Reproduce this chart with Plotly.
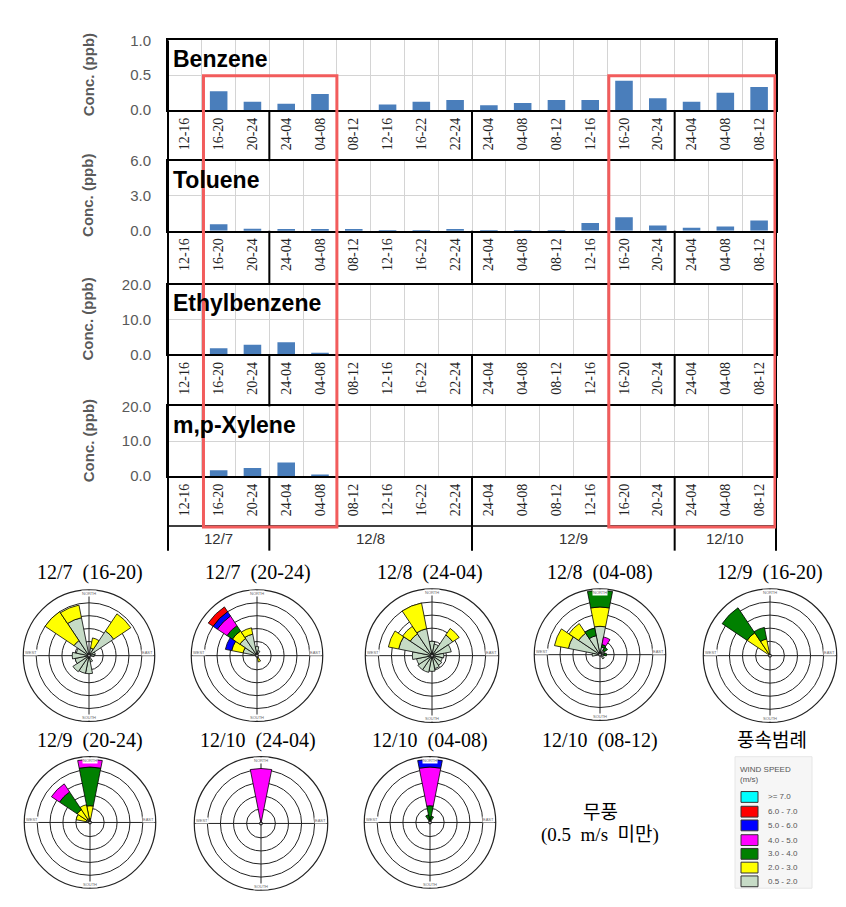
import plotly.graph_objects as go

W, H = 846, 907

# ---------------- data: VOC bar panels ----------------
time_labels = ["12-16", "16-20", "20-24", "24-04", "04-08", "08-12", "12-16", "16-22", "22-24",
               "24-04", "04-08", "08-12", "12-16", "16-20", "20-24", "24-04", "04-08", "08-12"]
date_labels = ["12/7", "12/8", "12/9", "12/10"]
date_counts = [3, 6, 6, 3]

compounds = ["Benzene", "Toluene", "Ethylbenzene", "m,p-Xylene"]
benzene = [0, 0.27, 0.12, 0.09, 0.23, 0, 0.08, 0.12, 0.145, 0.07, 0.10, 0.145, 0.145, 0.42, 0.17, 0.12, 0.25, 0.33]
toluene = [0, 0.57, 0.17, 0.15, 0.15, 0.15, 0.05, 0.05, 0.15, 0.02, 0.05, 0.05, 0.66, 1.17, 0.45, 0.26, 0.37, 0.88]
ethylbenzene = [0, 1.8, 2.8, 3.5, 0.2, 0, 0, 0, 0, 0, 0, 0, 0, 0, 0, 0, 0, 0]
mp_xylene = [0, 1.7, 2.3, 3.9, 0.2, 0, 0, 0, 0, 0, 0, 0, 0, 0, 0, 0, 0, 0]
y_max = [1.0, 6.0, 20.0, 20.0]

# highlighted periods (category index ranges)
highlight_1 = (1, 4)
highlight_2 = (13, 17)

# ---------------- data: wind roses ----------------
directions = ["N", "NNE", "NE", "ENE", "E", "ESE", "SE", "SSE",
              "S", "SSW", "SW", "WSW", "W", "WNW", "NW", "NNW"]
compass_labels = ["NORTH", "EAST", "SOUTH", "WEST"]
speed_classes = ["0.5 - 2.0", "2.0 - 3.0", "3.0 - 4.0", "4.0 - 5.0", "5.0 - 6.0", "6.0 - 7.0", ">= 7.0"]
speed_colors = ["#C6DBC6", "#FFFF00", "#008000", "#FF00FF", "#0000FF", "#FF0000", "#00FFFF"]

# frequency per direction, split by speed class (low -> high)
rose_12_7_16_20 = {"NNE": [0.5, 0.8], "NE": [2.2, 1.6], "ENE": [0.4], "E": [0.3],
                   "SSE": [0.4], "S": [1.3], "SSW": [1.3], "SW": [1.4], "WSW": [1.0], "W": [1.2],
                   "WNW": [0.9], "NW": [1.3, 2.7], "NNW": [2.9, 1.0]}
rose_12_7_20_24 = {"N": [0.6], "NNE": [0.3], "SSE": [0.1, 0.3], "WNW": [1.0, 0.9, 0, 0, 0.5],
                   "NW": [1.5, 0.7, 0.5, 0.9, 0.4, 0.45], "NNW": [1.6, 0.5]}
rose_12_8_24_04 = {"N": [1.0], "NNE": [0.8], "NE": [1.8, 0.6], "ENE": [1.4], "E": [0.8], "ESE": [0.7],
                   "SE": [0.8], "SSE": [0.9], "S": [1.1], "SSW": [1.2], "SW": [1.2], "WSW": [1.1],
                   "W": [1.4], "WNW": [2.5, 0.8], "NW": [1.9, 0.7], "NNW": [2.0, 2.0]}
rose_12_8_04_08 = {"N": [2.1, 1.5, 1.3], "NNE": [0.5, 0, 0.2, 0.6], "NE": [0.3, 0, 0.3], "ENE": [0.3],
                   "E": [0.2, 0, 0.2], "SE": [0.3], "W": [0.5], "WNW": [2.4, 1.1], "NW": [1.9, 0.9],
                   "NNW": [1.4, 0, 0.6]}
rose_12_9_16_20 = {"NW": [0, 2.0, 2.3], "NNW": [0, 1.2, 0.9]}
rose_12_9_20_24 = {"N": [0.2, 1.0, 3.0, 0.6], "WNW": [0.2, 0.8], "NW": [0.2, 0.9, 1.65, 0.75],
                   "NNW": [0.2, 1.1]}
rose_12_10_24_04 = {"N": [0.05, 0, 0, 4.05]}
rose_12_10_04_08 = {"N": [0.1, 0, 1.1, 3.0, 0.6], "NNW": [0, 0, 0.5], "NNE": [0, 0, 0.4]}

roses = [rose_12_7_16_20, rose_12_7_20_24, rose_12_8_24_04, rose_12_8_04_08,
         rose_12_9_16_20, rose_12_9_20_24, rose_12_10_24_04, rose_12_10_04_08]
rose_titles = ["12/7  (16-20)", "12/7  (20-24)", "12/8  (24-04)", "12/8  (04-08)", "12/9  (16-20)",
               "12/9  (20-24)", "12/10  (24-04)", "12/10  (04-08)", "12/10  (08-12)"]
calm_text = ["무풍", "(0.5  m/s  미만)"]
legend_title = "풍속범례"

# ---------------- layout geometry (pixels) ----------------
def px(x):
    return x / W

def py(y):
    return 1 - y / H

X0, X1 = 168, 776
panels_px = [(32, 103), (155, 226), (281, 352), (405, 476)]
label_bottom = 527
date_bottom = 552
rose_geo = [(89, 659, 67), (257, 659, 67), (432, 659, 68), (600, 658, 67), (770, 659, 68),
            (90, 829, 67), (261, 830, 68), (430, 829, 67)]
title_pos = [(90, 574), (258, 574), (430, 574), (600, 574), (770, 574),
             (90, 745), (258, 745), (430, 745), (600, 745)]

fig = go.Figure()
layout = dict(width=W, height=H, margin=dict(l=0, r=0, t=0, b=0), paper_bgcolor="white",
              plot_bgcolor="white", showlegend=False, bargap=0.5)
shapes = []
annotations = []

n = len(time_labels)
idx = list(range(n))
series = [benzene, toluene, ethylbenzene, mp_xylene]
GRID = "#d4d4d4"

# boundaries between days
bounds = []
s = 0
centers = []
for c in date_counts:
    centers.append(s + (c - 1) / 2)
    s += c
    bounds.append(s - 0.5)
bounds = bounds[:-1]

for i, (name, vals, ymax) in enumerate(zip(compounds, series, y_max)):
    k = "" if i == 0 else str(i + 1)
    top, bot = panels_px[i]
    fig.add_trace(go.Bar(x=idx, y=vals, xaxis="x" + k, yaxis="y" + k, width=0.52,
                         marker=dict(color="#4A7EBB", line=dict(width=0)), name=name,
                         showlegend=False))
    layout["xaxis" + k] = dict(
        domain=[px(X0), px(X1)], anchor="y" + k, range=[-0.5, n - 0.5],
        tickmode="array", tickvals=idx, ticktext=time_labels, tickangle=-90,
        tickfont=dict(family="Liberation Serif", size=14, color="#222"),
        showgrid=False, ticks="", zeroline=False,
        minor=dict(tickmode="array", tickvals=[j + 0.5 for j in range(n - 1)], showgrid=True,
                   gridcolor=GRID, gridwidth=1, ticks=""),
        showline=True, mirror=True, linecolor="black", linewidth=2, fixedrange=True)
    layout["yaxis" + k] = dict(
        domain=[py(bot), py(top)], anchor="x" + k, range=[0, ymax],
        tickmode="array", tickvals=[0, ymax / 2, ymax], tickformat=".1f",
        tickfont=dict(family="Liberation Sans", size=15, color="#595959"),
        ticklabelstandoff=12, ticks="", showgrid=True, gridcolor=GRID, gridwidth=1,
        zeroline=False, showline=True, mirror=True, linecolor="black", linewidth=2,
        fixedrange=True)
    # panel title
    annotations.append(dict(text="<b>%s</b>" % name, x=px(171), y=py(top + 19), xref="paper",
                            yref="paper", xanchor="left", yanchor="middle", showarrow=False,
                            font=dict(family="Liberation Sans", size=23, color="black")))
    # y axis title
    annotations.append(dict(text="<b>Conc. (ppb)</b>", x=px(88), y=py((top + bot) / 2),
                            xref="paper", yref="paper", textangle=-90, showarrow=False,
                            xanchor="center", yanchor="middle",
                            font=dict(family="Liberation Sans", size=15, color="#595959")))
    # day separators in the label area
    next_top = panels_px[i + 1][0] if i < 3 else date_bottom
    for b in bounds:
        shapes.append(dict(type="line", xref="x", yref="paper", x0=b, x1=b,
                           y0=py(bot), y1=py(next_top), line=dict(color="black", width=2)))

# outer borders through label areas
for xb in (X0, X1):
    shapes.append(dict(type="line", xref="paper", yref="paper", x0=px(xb), x1=px(xb),
                       y0=py(panels_px[0][0]), y1=py(date_bottom), line=dict(color="black", width=2)))
shapes.append(dict(type="line", xref="paper", yref="paper", x0=px(X0), x1=px(X1),
                   y0=py(label_bottom), y1=py(label_bottom), line=dict(color="black", width=1.5)))

# date labels
for lab, cx in zip(date_labels, centers):
    annotations.append(dict(text=lab, x=cx, y=py(540), xref="x4", yref="paper", showarrow=False,
                            xanchor="center", yanchor="middle",
                            font=dict(family="Liberation Sans", size=15, color="#333")))

# red highlight rectangles
for (a, b) in (highlight_1, highlight_2):
    shapes.append(dict(type="rect", xref="x", yref="paper", x0=a - 0.45, x1=min(b + 0.5, n - 0.53),
                       y0=py(label_bottom + 1), y1=py(68),
                       line=dict(color="#F25C5C", width=3), fillcolor="rgba(0,0,0,0)"))

# ---------------- wind roses ----------------
dir_deg = {d: j * 22.5 for j, d in enumerate(directions)}
for ri, rose in enumerate(roses):
    k = "" if ri == 0 else str(ri + 1)
    dirs = list(rose.keys())
    theta = [dir_deg[d] for d in dirs]
    for ci, (cls, col) in enumerate(zip(speed_classes, speed_colors)):
        r = [rose[d][ci] if len(rose[d]) > ci else 0 for d in dirs]
        if sum(r) == 0:
            continue
        fig.add_trace(go.Barpolar(r=r, theta=theta, width=[22.5] * len(r), subplot="polar" + k,
                                  marker=dict(color=col, line=dict(color="black", width=0.8)),
                                  name=cls, showlegend=False))
    cx, cy, rad = rose_geo[ri]
    layout["polar" + k] = dict(
        domain=dict(x=[px(cx - rad), px(cx + rad)], y=[py(cy + rad), py(cy - rad)]),
        bgcolor="white", barmode="stack", hole=0.02,
        radialaxis=dict(range=[0, 5], tickvals=[1, 2, 3, 4, 5], showticklabels=False, ticks="",
                        showline=False, gridcolor="#222", gridwidth=1),
        angularaxis=dict(rotation=90, direction="clockwise", tickmode="array",
                         tickvals=[0, 90, 180, 270], showticklabels=False,
                         ticks="", showgrid=True,
                         gridcolor="#222", gridwidth=1.2, showline=True, linecolor="#222",
                         linewidth=1.2))
    # compass labels just inside the outer ring
    offs = [(0, -rad + 4), (rad - 9, -3), (0, rad - 4), (-rad + 9, -3)]
    for lab, (dx, dy) in zip(compass_labels, offs):
        annotations.append(dict(text=lab, x=px(cx + dx), y=py(cy + dy), xref="paper", yref="paper",
                                xanchor="center", yanchor="middle", showarrow=False,
                                bgcolor="white", borderpad=0,
                                font=dict(family="Liberation Sans", size=4, color="#666")))

# rose titles
SERIF = "Liberation Serif, Noto Sans CJK KR"
for t, (tx, ty) in zip(rose_titles, title_pos):
    annotations.append(dict(text=t.replace("  ", " \u00a0"), x=px(tx), y=py(ty), xref="paper",
                            yref="paper", showarrow=False, xanchor="center", yanchor="middle",
                            font=dict(family=SERIF, size=20, color="black")))
annotations.append(dict(text=calm_text[0], x=px(600), y=py(819), xref="paper", yref="paper",
                        xanchor="center", yanchor="middle", showarrow=False,
                        font=dict(family=SERIF, size=19, color="black")))
annotations.append(dict(text=calm_text[1].replace("  ", " \u00a0"), x=px(600), y=py(842),
                        xref="paper", yref="paper", xanchor="center", yanchor="middle",
                        showarrow=False, font=dict(family=SERIF, size=19, color="black")))
annotations.append(dict(text=legend_title, x=px(772), y=py(745), xref="paper", yref="paper",
                        xanchor="center", yanchor="middle", showarrow=False,
                        font=dict(family=SERIF, size=19, color="black")))

# wind speed legend box
shapes.append(dict(type="rect", xref="paper", yref="paper", x0=px(735), x1=px(812), y0=py(896),
                   y1=py(762), fillcolor="#F6F6F6", line=dict(color="#E6E6E6", width=1), layer="below"))
annotations.append(dict(text="WIND SPEED<br>(m/s)", x=px(738), y=py(768), xref="paper",
                        yref="paper", xanchor="left", yanchor="top", align="left", showarrow=False,
                        font=dict(family="Liberation Sans", size=8, color="#555")))
leg_y = [803, 818, 832, 847, 861, 875, 889]
for ly, cls, col in zip(leg_y, speed_classes[::-1], speed_colors[::-1]):
    shapes.append(dict(type="rect", xref="paper", yref="paper", x0=px(741), x1=px(758),
                       y0=py(ly + 5.5), y1=py(ly - 5.5), fillcolor=col,
                       line=dict(color="#333", width=1)))
    annotations.append(dict(text=cls, x=px(766), y=py(ly), xref="paper", yref="paper",
                            xanchor="left", yanchor="middle", showarrow=False,
                            font=dict(family="Liberation Sans", size=8, color="#555")))

layout["shapes"] = shapes
layout["annotations"] = annotations
fig.update_layout(**layout)

fig.write_html("out.html", config={"displayModeBar": False},
               post_script="document.body.style.margin='0';")
